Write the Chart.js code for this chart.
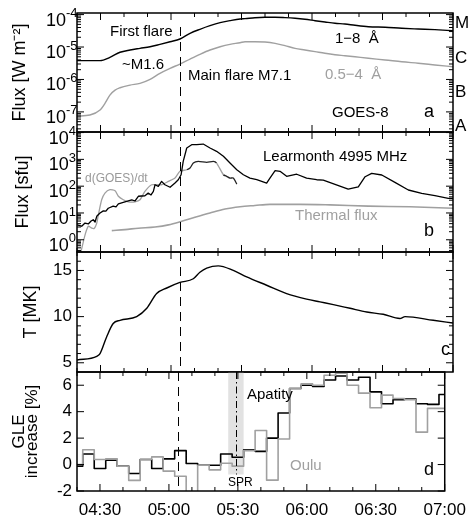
<!DOCTYPE html>
<html>
<head>
<meta charset="utf-8">
<title>GOES-8 / Learmonth / GLE</title>
<script src="https://cdn.jsdelivr.net/npm/chart.js@4.4.1/dist/chart.umd.min.js"></script>
<style>
  body { margin: 0; background: #fff; }
  #wrap { position: relative; width: 475px; height: 524px; }
  #wrap canvas { position: absolute; left: 0; top: 0; }
</style>
</head>
<body>
<div id="wrap">
  <canvas id="pa" width="475" height="524"></canvas>
  <canvas id="pb" width="475" height="524"></canvas>
  <canvas id="pc" width="475" height="524"></canvas>
  <canvas id="pd" width="475" height="524"></canvas>
</div>
<script>
// all times in minutes after 00:00 UT
const xLabels = [270, 300, 330, 360, 390, 420];
const xMinor = [260, 280, 290, 310, 320, 340, 350, 370, 380, 400, 410];

// panel a - GOES-8 soft X-rays [W m^-2]
const tLong = [260, 269.8, 274, 278.3, 282.6, 286.8, 291.1, 295.3, 299.6, 303.8, 308.1, 312.3, 316.6, 320.9, 325.1, 329.4, 331.5, 335.7, 340, 344.3,
  348.5, 352.8, 357, 361.3, 365.5, 369.8, 374, 378.3, 384, 391.1, 398.2, 405.2, 412.3, 420];
const fLong = [3.8e-6, 3.8e-6, 4.8e-6, 6.9e-6, 8.1e-6, 9.1e-6, 1.02e-5, 1.21e-5, 1.46e-5, 1.77e-5, 2.65e-5, 3.52e-5, 4.55e-5, 5.63e-5, 6.49e-5, 7.32e-5, 7.5e-5, 8.0e-5, 8.26e-5, 8.26e-5,
  8.04e-5, 7.69e-5, 7.17e-5, 6.49e-5, 5.91e-5, 5.39e-5, 5.13e-5, 4.68e-5, 4.24e-5, 4.06e-5, 3.79e-5, 3.6e-5, 3.43e-5, 3.19e-5];
const tShort = [260, 265.5, 269.8, 271.9, 274, 276.2, 278.3, 282.6, 286.8, 291.1, 295.3, 299.6, 303.8, 308.1, 312.3, 316.6, 320.9, 325.1, 329.4, 331.5,
  335.7, 340, 344.3, 348.5, 352.8, 357, 361.3, 365.5, 369.8, 374, 378.3, 384, 391.1, 398.2, 405.2, 412.3, 420];
const fShort = [7.4e-8, 8.0e-8, 1.14e-7, 1.83e-7, 3.3e-7, 4.7e-7, 5.55e-7, 6.7e-7, 7.6e-7, 1.01e-6, 1.55e-6, 2.2e-6, 2.99e-6, 4.27e-6, 5.96e-6, 8.1e-6, 1.02e-5, 1.21e-5, 1.36e-5, 1.46e-5,
  1.46e-5, 1.43e-5, 1.3e-5, 1.1e-5, 9.1e-6, 8.1e-6, 7.2e-6, 6.4e-6, 5.8e-6, 5.4e-6, 5.0e-6, 4.5e-6, 4.0e-6, 3.5e-6, 3.15e-6, 2.8e-6, 2.47e-6];
const aTicks = [1e-7, 1e-6, 1e-5, 1e-4];
const aExp = ['-7', '-6', '-5', '-4'];

// panel b - radio flux [sfu]
const tRadio = [260, 262, 263.4, 264.8, 266, 266.9, 267.7, 268.4, 269.8, 271.2, 272.3, 273.3, 275.4, 276.6, 277.6, 280.4, 283.3, 284.7, 286.1, 288.9,
  290.3, 291.5, 292.5, 293.2, 294.6, 296, 297.4, 299.6, 301.7, 303.1, 304.3, 305.2, 306.7, 308.8, 310.9, 313.7, 316.6, 319.4, 322.3, 325.1,
  328, 330.8, 333.6, 336.5, 340.7, 342.1, 344.3, 346.4, 349.2, 353.5, 357.7, 362, 364.8, 369.8, 375.4, 379.7, 382.6, 385.4, 389.7, 395.3,
  401, 406.7, 412.3, 418, 420];
const fRadio = [3.6, 3.2, 4.2, 3.9, 5.0, 5.6, 4.6, 7.5, 10, 12, 11.8, 15, 18, 17, 22, 26, 31, 28, 42, 44,
  55, 47, 64, 113, 99, 151, 113, 91, 131, 174, 267, 845, 2650, 3520, 3520, 3730, 2650, 2000, 1300, 730,
  410, 267, 201, 174, 131, 201, 377, 358, 233, 279, 198, 174, 169, 117, 78, 95, 225, 301, 261, 139,
  72, 54, 44, 35, 35];
const tDeriv = [261.5, 263.4, 264.8, 266.3, 267.4, 268.4, 269.1, 270.5, 271.9, 274, 276.2, 277.6, 279.7, 281.8, 284.7, 286.8, 288.9, 291.8, 296, 298.9,
  301.7, 303.8, 306.7, 308.1, 309.5, 311.6, 315.2, 318, 319.4, 322.3, 323.7, 325.1, 326.5, 328];
const fDeriv = [0.3, 1.5, 3.2, 2.7, 2.7, 4.2, 8.6, 31, 55, 74, 68, 42, 31, 26, 26, 31, 64, 113, 113, 151,
  201, 358, 410, 475, 730, 845, 775, 845, 730, 267, 233, 201, 201, 120];
const tTherm = [274.8, 280.4, 286.1, 293.2, 298.9, 304.6, 310.2, 316.6, 323, 329.4, 335.7, 342.1, 354.9, 367.7, 384, 401.7, 420];
const fTherm = [2.2, 2.4, 2.7, 3.0, 3.6, 4.9, 6.9, 10, 14, 17, 19, 21, 21, 20, 18, 17, 15];
const bTicks = [1, 10, 100, 1000, 10000];
const bExp = ['0', '1', '2', '3', '4'];

// panel c - temperature [MK]
const tTemp = [260, 268.4, 269.8, 272.6, 275.4, 278.3, 285.4, 289.7, 293.9, 298.2, 303.8, 309.5, 312.3, 315.2, 320.1, 326.5, 332.2, 340.7, 349.2, 357.7,
  363.4, 369.1, 376.2, 383.3, 390.3, 397.4, 399.6, 411.6, 420];
const temp = [5.3, 5.7, 6.0, 7.8, 9.25, 9.6, 10.0, 10.9, 12.5, 13.1, 13.7, 14.1, 14.8, 15.25, 15.5, 15.0, 14.3, 13.4, 12.5, 11.9,
  11.6, 11.3, 10.9, 10.5, 10.25, 9.8, 10.0, 9.6, 9.3];

// panel d - GLE increase [%], 5-min bins (left edges, last entry closes the last bin)
const binEdge = [260, 262.5, 267.5, 272.5, 277.5, 282.5, 287.5, 292.5, 297.5, 302.5, 307.5, 312.5, 317.5, 322.5, 327.5, 332.5, 337.5, 342.5, 347.5, 352.5,
  357.5, 362.5, 367.5, 372.5, 377.5, 382.5, 387.5, 392.5, 397.5, 402.5, 407.5, 412.5, 417.5, 420];
const apatity = [-0.12, 0.8, -0.3, 0.33, -0.12, -0.68, 0.38, -0.3, 0.43, 1.05, 0.08, -0.05, -0.05, 0.8, 0.55, 1.12, 1.0, 2.0, 3.9, 5.75,
  6.0, 5.9, 6.4, 6.7, 6.4, 6.6, 5.5, 4.6, 4.9, 4.95, 4.6, 4.55, 5.3, 5.3];
const oulu = [0.0, 1.12, 0.38, 0.43, -0.12, -1.2, 0.38, 0.58, -0.5, -0.88, -3, -0.05, -0.4, 0.1, -0.12, 1.05, 2.58, -1.18, 1.93, 5.75,
  6.1, 6.0, 6.75, 6.9, 6.0, 5.4, 4.3, 5.25, 5.0, 4.9, 2.45, 4.25, 4.25, 4.25];

const flareStart = 304;       // dashed line, 05:04
const sprTime = 329;          // dash-dot line
const sprBand = [325.8, 332.5];

const FONT = "'Liberation Sans', Arial, Helvetica, sans-serif";
const GREY = '#a0a0a0';

const pts = (t, v) => t.map((x, i) => ({ x: x, y: v[i] }));
const hhmm = v => String(Math.floor(v / 60)).padStart(2, '0') + ':' + String(v % 60).padStart(2, '0');

function logMinors(lo, hi) {
  const out = [];
  for (let e = Math.floor(Math.log10(lo)); e <= Math.ceil(Math.log10(hi)); e++) {
    for (let k = 2; k <= 9; k++) {
      const v = k * Math.pow(10, e);
      if (v > lo && v < hi) out.push(v);
    }
  }
  return out;
}

// frame with inward ticks, markers and labels
function deco(o) {
  return {
    id: 'deco',
    beforeDatasetsDraw(chart) {
      if (!o.band) return;
      const { ctx, chartArea: a, scales: { x, y } } = chart;
      const x0 = x.getPixelForValue(o.band[0]), x1 = x.getPixelForValue(o.band[1]);
      ctx.save();
      ctx.fillStyle = '#e2e2e2';
      ctx.fillRect(x0, a.top, x1 - x0, y.getPixelForValue(o.band[2]) - a.top);
      ctx.restore();
    },
    afterDatasetsDraw(chart) {
      const { ctx, chartArea: a, scales: { x, y } } = chart;
      const line = (x0, y0, x1, y1) => { ctx.beginPath(); ctx.moveTo(x0, y0); ctx.lineTo(x1, y1); ctx.stroke(); };
      ctx.save();
      ctx.strokeStyle = '#000';
      ctx.lineWidth = 1;
      const px = Math.round(x.getPixelForValue(flareStart)) + 0.5;
      ctx.setLineDash([9, 6]);
      line(px, a.top + (o.dashSkip || 0), px, a.bottom);
      if (o.dashDot) {
        const pd = Math.round(x.getPixelForValue(sprTime)) + 0.5;
        ctx.setLineDash([7, 3, 1.5, 3]);
        line(pd, a.top, pd, y.getPixelForValue(o.dashDot));
      }
      ctx.setLineDash([]);
      xLabels.forEach(v => { const p = x.getPixelForValue(v); line(p, a.bottom, p, a.bottom - 7); line(p, a.top, p, a.top + 7); });
      xMinor.forEach(v => { const p = x.getPixelForValue(v); line(p, a.bottom, p, a.bottom - 4); line(p, a.top, p, a.top + 4); });
      o.yMajor.forEach(v => { const p = y.getPixelForValue(v); line(a.left, p, a.left + 7, p); line(a.right, p, a.right - 7, p); });
      (o.yMinor || []).forEach(v => { const p = y.getPixelForValue(v); line(a.left, p, a.left + 4, p); line(a.right, p, a.right - 4, p); });
      ctx.lineWidth = 1.5;
      ctx.strokeRect(a.left, a.top, a.width, a.height);
      ctx.textBaseline = 'middle';
      ctx.fillStyle = '#000';
      // log tick labels: "10" with a raised exponent, right edge against the axis
      (o.powers || []).forEach((e, i) => {
        const p = y.getPixelForValue(o.yMajor[i]);
        ctx.font = '13px ' + FONT;
        ctx.textAlign = 'left';
        const w = ctx.measureText(e).width;
        const xe = a.left - w - o.powRight;
        ctx.fillText(e, xe, p - 1);
        ctx.font = '18px ' + FONT;
        ctx.textAlign = 'right';
        ctx.fillText('10', xe, p + 6);
      });
      ctx.textAlign = 'left';
      o.texts.forEach(([s, tx, ty, col, size]) => {
        ctx.fillStyle = col || '#000';
        ctx.font = (size || 15) + 'px ' + FONT;
        ctx.fillText(s, tx, ty);
      });
      ctx.restore();
    }
  };
}

function panel(id, top, bottom, datasets, yOpts, plug, showX) {
  const xOpts = {
    type: 'linear', min: 260, max: 420, display: showX,
    grid: { display: false, drawTicks: false }, border: { display: false },
    afterBuildTicks: s => { s.ticks = xLabels.map(v => ({ value: v })); },
    ticks: { autoSkip: false, maxRotation: 0, padding: 9, color: '#000', font: { family: FONT, size: 17 }, callback: v => hhmm(v) }
  };
  if (showX) xOpts.afterFit = s => { s.height = 524 - bottom; };
  return new Chart(document.getElementById(id), {
    type: 'line',
    data: { datasets: datasets },
    options: {
      animation: false, responsive: false, events: [],
      layout: { padding: { left: 0, right: 22, top: top, bottom: showX ? 0 : 524 - bottom } },
      plugins: { legend: { display: false }, tooltip: { enabled: false } },
      elements: { point: { radius: 0 }, line: { borderJoinStyle: 'round', fill: false } },
      scales: {
        x: xOpts,
        y: Object.assign({
          grid: { display: false, drawTicks: false }, border: { display: false },
          afterFit: s => { s.width = 77; }
        }, yOpts)
      }
    },
    plugins: [plug]
  });
}

const titleFont = { family: FONT, size: 18 };

panel('pa', 13, 132, [
  { data: pts(tLong, fLong), borderColor: '#000', borderWidth: 1.4, cubicInterpolationMode: 'monotone' },
  { data: pts(tShort, fShort), borderColor: GREY, borderWidth: 1.4, cubicInterpolationMode: 'monotone' }
], {
  type: 'logarithmic', min: 2.4e-8, max: 1.12e-4,
  afterBuildTicks: s => { s.ticks = aTicks.map(v => ({ value: v })); },
  ticks: { display: false },
  title: { display: true, text: 'Flux [W m⁻²]', color: '#000', font: titleFont, padding: { top: 9, bottom: 0 } }
}, deco({
  dashSkip: 14, yMajor: aTicks, yMinor: logMinors(2.4e-8, 1.12e-4), powers: aExp, powRight: -0.5,
  texts: [
    ['First flare', 110, 32], ['~M1.6', 122, 65], ['Main flare M7.1', 188, 76],
    ['1−8  Å', 335, 39], ['0.5−4  Å', 325, 75, GREY], ['GOES-8', 332, 113], ['a', 424, 112, '#000', 18],
    ['M', 455, 23, '#000', 17], ['C', 455, 58, '#000', 17], ['B', 455, 92, '#000', 17], ['A', 455, 126, '#000', 17]
  ]
}), false);

panel('pb', 132, 252, [
  { data: pts(tRadio, fRadio), borderColor: '#000', borderWidth: 1.3, tension: 0 },
  { data: pts(tDeriv, fDeriv), borderColor: GREY, borderWidth: 1.3, tension: 0.2,
    segment: { borderColor: c => (c.p0.parsed.x >= 305 && !(c.p0.parsed.x >= 319 && c.p0.parsed.x < 322)) ? '#222' : GREY } },
  { data: pts(tTherm, fTherm), borderColor: GREY, borderWidth: 1.6, cubicInterpolationMode: 'monotone' }
], {
  type: 'logarithmic', min: 0.35, max: 1.05e4,
  afterBuildTicks: s => { s.ticks = bTicks.map(v => ({ value: v })); },
  ticks: { display: false },
  title: { display: true, text: 'Flux [sfu]', color: '#000', font: titleFont, padding: { top: 12.5, bottom: 0 } }
}, deco({
  yMajor: bTicks, yMinor: logMinors(0.35, 1.05e4), powers: bExp, powRight: 1,
  texts: [
    ['Learmonth 4995 MHz', 263, 157], ['d(GOES)/dt', 85, 179, '#999', 12],
    ['Thermal flux', 295, 216, GREY], ['b', 424, 231, '#000', 18]
  ]
}), false);

panel('pc', 252, 372, [
  { data: pts(tTemp, temp), borderColor: '#000', borderWidth: 1.4, cubicInterpolationMode: 'monotone' }
], {
  type: 'linear', min: 4, max: 17,
  afterBuildTicks: s => { s.ticks = [5, 10, 15].map(v => ({ value: v })); },
  ticks: { color: '#000', font: { family: FONT, size: 17 }, padding: 5 },
  title: { display: true, text: 'T [MK]', color: '#000', font: titleFont, padding: { top: 20, bottom: 0 } }
}, deco({
  yMajor: [5, 10, 15], yMinor: [6, 7, 8, 9, 11, 12, 13, 14, 16],
  texts: [['c', 441, 350, '#000', 18]]
}), false);

panel('pd', 372, 491, [
  { data: pts(binEdge, oulu), borderColor: GREY, borderWidth: 1.6, stepped: 'before' },
  { data: pts(binEdge, apatity), borderColor: '#000', borderWidth: 1.6, stepped: 'before' }
], {
  type: 'linear', min: -2, max: 7,
  afterBuildTicks: s => { s.ticks = [-2, 0, 2, 4, 6].map(v => ({ value: v })); },
  ticks: { color: '#000', font: { family: FONT, size: 17 }, padding: 5 },
  title: { display: true, text: ['GLE', 'increase [%]'], color: '#000', font: { family: FONT, size: 17, lineHeight: 0.74 }, padding: { top: 13, bottom: 0 } }
}, deco({
  band: [sprBand[0], sprBand[1], -0.75], dashDot: -0.75,
  yMajor: [-2, 0, 2, 4, 6],
  texts: [
    ['Apatity', 247, 395], ['Oulu', 290, 466, GREY], ['SPR', 228, 483, '#000', 12], ['d', 424, 470, '#000', 18]
  ]
}), true);
</script>
</body>
</html>
